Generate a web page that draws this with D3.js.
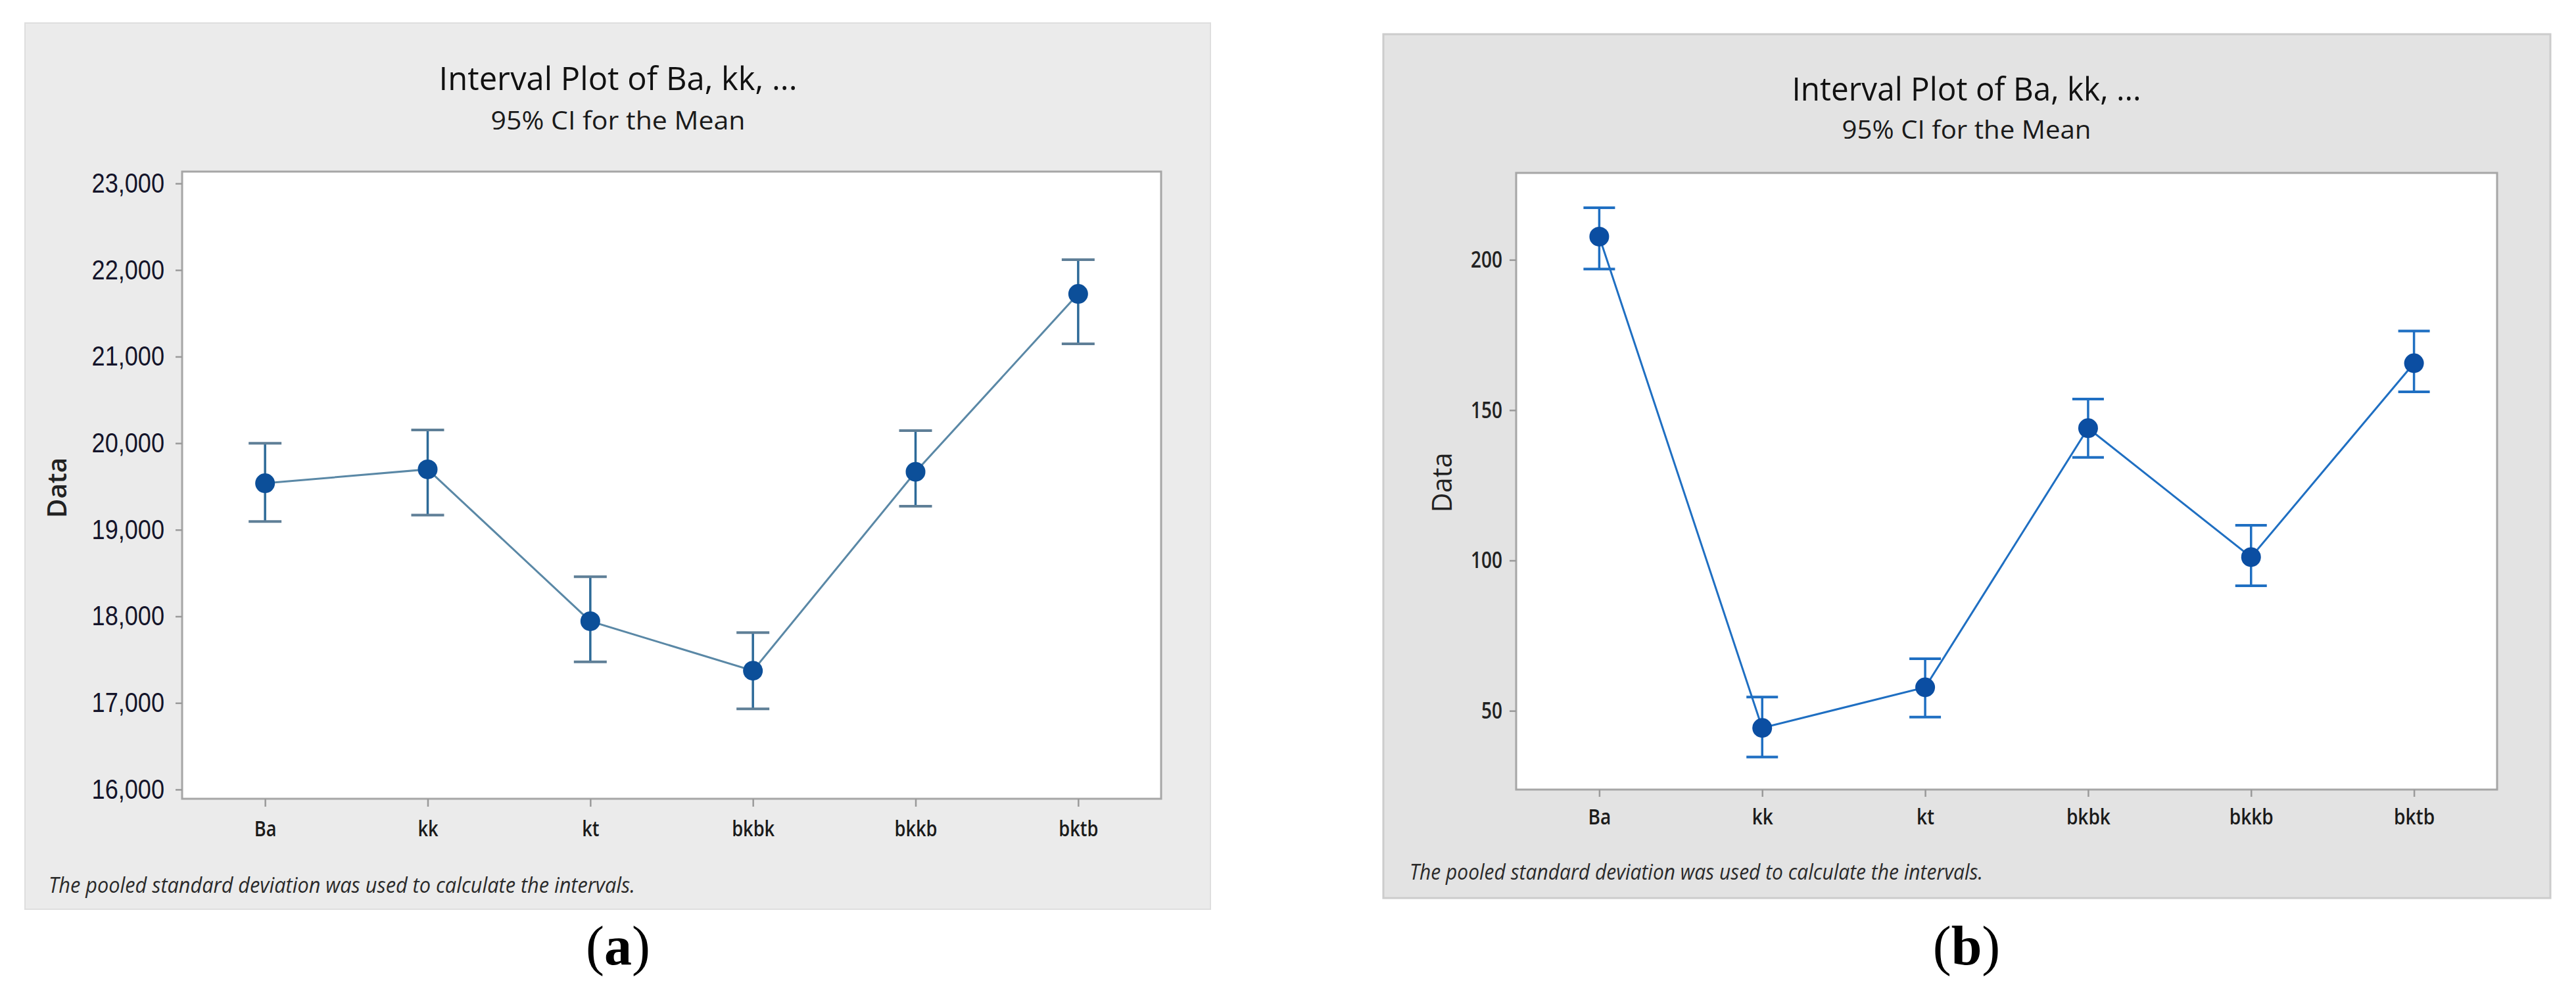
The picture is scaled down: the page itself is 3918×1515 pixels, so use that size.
<!DOCTYPE html>
<html>
<head>
<meta charset="utf-8">
<script src="https://cdn.jsdelivr.net/npm/d3@7"></script>
<style>
  html, body { margin: 0; padding: 0; background: #ffffff; }
  svg { display: block; }
</style>
</head>
<body>
<svg id="chart" width="3918" height="1515"></svg>
<script>
// ---------------- DATA ----------------
const categories = ["Ba", "kk", "kt", "bkbk", "bkkb", "bktb"];

// Panel (a)
const meanA  = [19537, 19698, 17944, 17372, 19669, 21724];
const lowerA = [19096, 19170, 17474, 16931, 19272, 21147];
const upperA = [19999, 20153, 18458, 17812, 20146, 22119];
const yTicksA = [16000, 17000, 18000, 19000, 20000, 21000, 22000, 23000];

// Panel (b)
const meanB  = [207.7, 44.3, 57.8, 144.0, 101.1, 165.6];
const lowerB = [196.9, 34.6, 47.9, 134.3, 91.6, 156.1];
const upperB = [217.3, 54.6, 67.3, 153.7, 111.7, 176.3];
const yTicksB = [50, 100, 150, 200];

const titleText = "Interval Plot of Ba, kk, ...";
const subtitleText = "95% CI for the Mean";
const yAxisTitle = "Data";
const footnoteText = "The pooled standard deviation was used to calculate the intervals.";
const panelLabels = ["a", "b"];

// ---------------- LAYOUT ----------------
const svg = d3.select("#chart");

const panels = [
  {
    mean: meanA, lower: lowerA, upper: upperA, yTicks: yTicksA, label: panelLabels[0],
    yDomain: [15893, 23137], yFormat: d3.format(","),
    bg: {x: 38, y: 35, w: 1803, h: 1348, fill: "#ebebeb", stroke: "#dedede", sw: 2},
    frame: {x: 277, y: 261, w: 1489, h: 954},
    title: {x: 940, y: 137, size: 50, len: 545},
    subtitle: {x: 940, y: 197, size: 38, len: 387},
    ytitle: {x: 85, y: 742, size: 40, len: 92, weight: 600},
    yTickFont: {family: "'Liberation Sans', Arial, sans-serif", size: 42, sx: 0.86, color: "#14142a", weight: 400, tick: 10, pad: 17},
    xTickFont: {family: "'Open Sans', sans-serif", size: 32, sx: 0.85, color: "#1a1a1a", weight: 600, tick: 12, pad: 22},
    foot: {x: 74, y: 1358, size: 33, len: 892},
    plabel: {x: 940, y: 1467},
    colors: {line: "#5a88a6", bar: "#2d6a98", cap: "#5f7f97", marker: "#0c4f99"},
    capHalf: 25, r: 15
  },
  {
    mean: meanB, lower: lowerB, upper: upperB, yTicks: yTicksB, label: panelLabels[1],
    yDomain: [23.8, 228.9], yFormat: d3.format("d"),
    bg: {x: 2104, y: 52, w: 1775, h: 1314, fill: "#e3e3e3", stroke: "#cccccc", sw: 3},
    frame: {x: 2306, y: 263, w: 1492, h: 938},
    title: {x: 2991, y: 153, size: 50, len: 531},
    subtitle: {x: 2991, y: 211, size: 38, len: 379},
    ytitle: {x: 2191, y: 734, size: 42, len: 91, weight: 500},
    yTickFont: {family: "'Open Sans', sans-serif", size: 35, sx: 0.8, color: "#222222", weight: 600, tick: 10, pad: 11},
    xTickFont: {family: "'Open Sans', sans-serif", size: 33, sx: 0.85, color: "#1a1a1a", weight: 600, tick: 11, pad: 19},
    foot: {x: 2144, y: 1338, size: 33, len: 872},
    plabel: {x: 2991, y: 1467},
    colors: {line: "#1f6fc2", bar: "#1f6fc2", cap: "#1f6fc2", marker: "#0b4ea2"},
    capHalf: 24, r: 15
  }
];

function drawPanel(p) {
  const g = svg.append("g");
  const F = p.frame;

  g.append("rect")
    .attr("x", p.bg.x).attr("y", p.bg.y).attr("width", p.bg.w).attr("height", p.bg.h)
    .attr("fill", p.bg.fill).attr("stroke", p.bg.stroke).attr("stroke-width", p.bg.sw);

  g.append("rect")
    .attr("x", F.x).attr("y", F.y).attr("width", F.w).attr("height", F.h)
    .attr("fill", "#ffffff").attr("stroke", "#a6a6a6").attr("stroke-width", 3);

  const x = d3.scalePoint().domain(categories).range([F.x, F.x + F.w]).padding(0.51);
  const y = d3.scaleLinear().domain(p.yDomain).range([F.y + F.h, F.y]);

  g.append("text")
    .attr("x", p.title.x).attr("y", p.title.y)
    .attr("text-anchor", "middle")
    .attr("font-family", "'Open Sans', 'Noto Sans', sans-serif")
    .attr("font-size", p.title.size).attr("font-weight", 500).attr("fill", "#111111")
    .attr("textLength", p.title.len).attr("lengthAdjust", "spacingAndGlyphs")
    .text(titleText);
  g.append("text")
    .attr("x", p.subtitle.x).attr("y", p.subtitle.y)
    .attr("text-anchor", "middle")
    .attr("font-family", "'Open Sans', 'Noto Sans', sans-serif")
    .attr("font-size", p.subtitle.size).attr("font-weight", 500).attr("fill", "#1a1a1a")
    .attr("textLength", p.subtitle.len).attr("lengthAdjust", "spacingAndGlyphs")
    .text(subtitleText);

  const yf = p.yTickFont;
  const yAxis = d3.axisLeft(y).tickValues(p.yTicks).tickFormat(p.yFormat)
    .tickSize(yf.tick).tickPadding(yf.pad);
  const ya = g.append("g").attr("transform", `translate(${F.x},0)`).call(yAxis);
  ya.select(".domain").remove();
  ya.selectAll(".tick line").attr("stroke", "#9a9a9a").attr("stroke-width", 2.5);
  ya.selectAll(".tick text")
    .attr("font-family", yf.family).attr("font-size", yf.size).attr("font-weight", yf.weight)
    .attr("fill", yf.color)
    .attr("x", -(yf.tick + yf.pad) / yf.sx)
    .attr("transform", `scale(${yf.sx},1)`);

  const xf = p.xTickFont;
  const xAxis = d3.axisBottom(x).tickSize(xf.tick).tickPadding(xf.pad);
  const xa = g.append("g").attr("transform", `translate(0,${F.y + F.h})`).call(xAxis);
  xa.select(".domain").remove();
  xa.selectAll(".tick line").attr("stroke", "#9a9a9a").attr("stroke-width", 2.5);
  xa.selectAll(".tick text")
    .attr("font-family", xf.family).attr("font-size", xf.size).attr("font-weight", xf.weight)
    .attr("fill", xf.color)
    .attr("transform", `scale(${xf.sx},1)`);

  g.append("text")
    .attr("transform", `translate(${p.ytitle.x},${p.ytitle.y}) rotate(-90)`)
    .attr("text-anchor", "middle").attr("dominant-baseline", "central")
    .attr("font-family", "'Open Sans', 'Noto Sans', sans-serif")
    .attr("font-size", p.ytitle.size).attr("font-weight", p.ytitle.weight).attr("fill", "#222222")
    .attr("textLength", p.ytitle.len).attr("lengthAdjust", "spacingAndGlyphs")
    .text(yAxisTitle);

  const pts = categories.map((c, i) => ({c, m: p.mean[i], lo: p.lower[i], hi: p.upper[i]}));

  g.append("path")
    .datum(pts)
    .attr("d", d3.line().x(d => x(d.c)).y(d => y(d.m)))
    .attr("fill", "none").attr("stroke", p.colors.line).attr("stroke-width", 3);

  const eb = g.append("g");
  eb.selectAll("line.v").data(pts).join("line").attr("class", "v")
    .attr("x1", d => x(d.c)).attr("x2", d => x(d.c))
    .attr("y1", d => y(d.lo)).attr("y2", d => y(d.hi))
    .attr("stroke", p.colors.bar).attr("stroke-width", 3.5);
  eb.selectAll("line.ct").data(pts).join("line").attr("class", "ct")
    .attr("x1", d => x(d.c) - p.capHalf).attr("x2", d => x(d.c) + p.capHalf)
    .attr("y1", d => y(d.hi)).attr("y2", d => y(d.hi))
    .attr("stroke", p.colors.cap).attr("stroke-width", 4);
  eb.selectAll("line.cb").data(pts).join("line").attr("class", "cb")
    .attr("x1", d => x(d.c) - p.capHalf).attr("x2", d => x(d.c) + p.capHalf)
    .attr("y1", d => y(d.lo)).attr("y2", d => y(d.lo))
    .attr("stroke", p.colors.cap).attr("stroke-width", 4);

  g.append("g").selectAll("circle").data(pts).join("circle")
    .attr("cx", d => x(d.c)).attr("cy", d => y(d.m)).attr("r", p.r)
    .attr("fill", p.colors.marker);

  g.append("text")
    .attr("x", p.foot.x).attr("y", p.foot.y)
    .attr("font-family", "'Open Sans', 'Noto Sans', sans-serif")
    .attr("font-style", "italic")
    .attr("font-size", p.foot.size).attr("fill", "#2a2a2a")
    .attr("textLength", p.foot.len).attr("lengthAdjust", "spacingAndGlyphs")
    .text(footnoteText);

  const pl = g.append("text")
    .attr("x", p.plabel.x).attr("y", p.plabel.y)
    .attr("text-anchor", "middle")
    .attr("font-family", "'Liberation Serif', 'DejaVu Serif', serif")
    .attr("font-size", 84).attr("fill", "#000000");
  pl.append("tspan").text("(");
  pl.append("tspan").attr("font-weight", "bold").text(p.label);
  pl.append("tspan").text(")");
}

panels.forEach(drawPanel);
</script>
</body>
</html>
